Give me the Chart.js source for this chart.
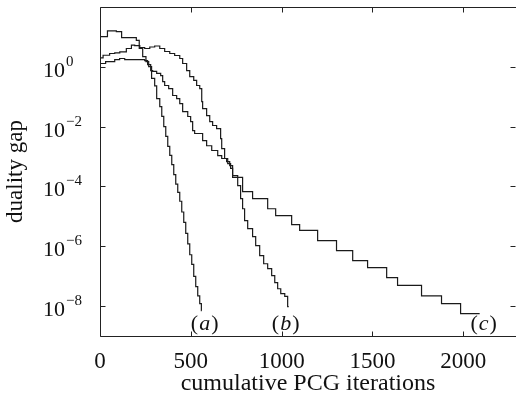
<!DOCTYPE html>
<html>
<head>
<meta charset="utf-8">
<script src="https://cdn.jsdelivr.net/npm/chart.js@4.4.0/dist/chart.umd.min.js"></script>
<style>
    html, body { margin: 0; padding: 0; background: #fff; }
</style>
</head>
<body>
<canvas id="gapchart" width="516" height="396"></canvas>
<script>
// curve (a)
const itersA = [0, 41, 90, 119, 200, 216, 235, 253, 268, 284, 301, 312, 329, 340, 351, 362, 373, 384, 395, 406,
    417, 428, 439, 450, 461, 472, 483, 494, 505, 516, 527, 538, 549, 558, 560];
const gapA = [0.138, 10.2, 15.8, 15.1, 9.5, 7.6, 4.1, 2.2, 1.5, 1.02, 0.41, 0.23, 0.087, 0.047, 0.022, 0.01,
    4.7e-3, 2.2e-3, 1.1e-3, 5.4e-4, 2.5e-4, 1.2e-4, 6.3e-5, 3.2e-5, 1.4e-5, 6.3e-6, 2.7e-6, 1.2e-6, 5.2e-7,
    2.5e-7, 9.8e-8, 4.5e-8, 2.2e-8, 1.2e-8, 7.1e-9];

// curve (b)
const itersB = [0, 17, 53, 81, 109, 145, 173, 191, 219, 246, 274, 301, 329, 356, 384, 411, 439, 455, 477, 494,
    516, 532, 549, 560, 565, 587, 604, 620, 642, 664, 670, 686, 703, 719, 730, 758, 774, 785, 796, 813,
    840, 857, 879, 901, 923, 945, 962, 978, 995, 1017, 1033, 1039];
const gapB = [0.60, 2.0, 2.44, 2.79, 2.94, 3.18, 4.09, 5.28, 5.15, 4.42, 4.09, 4.59, 4.96, 4.09, 3.25, 2.79,
    2.39, 1.90, 1.29, 0.75, 0.47, 0.35, 0.237, 0.188, 0.069, 0.040, 0.0235, 0.0148, 0.0109, 8.6e-3,
    4.0e-3, 1.85e-3, 8.6e-4, 5.8e-4, 4.0e-4, 2.3e-4, 1.07e-4, 3.9e-5, 1.8e-5, 7.2e-6, 3.9e-6, 2.1e-6,
    1.05e-6, 4.9e-7, 2.6e-7, 1.8e-7, 1.05e-7, 6.1e-8, 3.8e-8, 2.6e-8, 2.1e-8, 9.6e-9];

// curve (c)
const itersC = [0, 31, 81, 108, 136, 246, 262, 279, 290, 312, 334, 345, 356, 378, 400, 422, 439, 455, 483, 499,
    510, 521, 565, 587, 615, 648, 670, 697, 714, 730, 785, 840, 923, 967, 1055, 1099, 1198, 1302, 1391, 1473,
    1578, 1638, 1770, 1880, 1985, 2090];
const gapC = [1.02, 1.29, 1.50, 1.75, 1.90, 1.75, 1.62, 1.19, 0.75, 0.70, 0.60, 0.51, 0.32, 0.237, 0.188,
    0.110, 0.087, 0.059, 0.032, 0.0218, 0.0148, 7.4e-3, 5.9e-3, 3.4e-3, 2.3e-3, 1.59e-3, 1.08e-3, 8.6e-4,
    6.8e-4, 5.0e-4, 2.0e-4, 6.7e-5, 3.9e-5, 1.8e-5, 1.06e-5, 5.3e-6, 3.4e-6, 1.55e-6, 7.2e-7, 3.3e-7,
    1.94e-7, 9.0e-8, 4.9e-8, 2.2e-8, 1.21e-8, 5.6e-9];

const xTicks = [0, 500, 1000, 1500, 2000];
const yTicks = [1, 1e-2, 1e-4, 1e-6, 1e-8];

// curve tags, placed in data coordinates
const tagLetters = ['a', 'b', 'c'];
const tagIters = [576, 1022, 2112];
const tagGap = [1.6e-9, 1.6e-9, 1.6e-9];

const serif = "'Liberation Serif', 'Times New Roman', serif";
const ink = '#1a1a1a';

function pts(xs, ys) {
    return xs.map(function (x, i) { return { x: x, y: ys[i] }; });
}

function lineSet(xs, ys) {
    return {
        data: pts(xs, ys),
        borderColor: ink,
        borderWidth: 1.2,
        pointRadius: 0,
        stepped: 'after',
        fill: false
    };
}

// matlab style box, inward ticks, 10^n labels and the (a)(b)(c) tags
const matlabBox = {
    id: 'matlabBox',
    afterDraw(chart) {
        const ctx = chart.ctx;
        const area = chart.chartArea;
        const xs = chart.scales.x;
        const ys = chart.scales.y;
        // right edge of the box sits just outside the picture
        const L = area.left + 0.5, R = area.right + 0.5, T = area.top + 0.5, B = area.bottom + 0.5;
        ctx.save();
        ctx.strokeStyle = '#222';
        ctx.lineWidth = 1;
        ctx.beginPath();
        ctx.rect(L, T, R - L, B - T);
        xTicks.forEach(function (v) {
            const px = Math.round(xs.getPixelForValue(v)) + 0.5;
            ctx.moveTo(px, B); ctx.lineTo(px, B - 5);
            ctx.moveTo(px, T); ctx.lineTo(px, T + 5);
        });
        yTicks.forEach(function (v) {
            const py = Math.round(ys.getPixelForValue(v)) + 0.5;
            ctx.moveTo(L, py); ctx.lineTo(L + 5, py);
            ctx.moveTo(R - 1, py); ctx.lineTo(R - 6, py);
        });
        ctx.stroke();

        // y tick labels as 10 with a raised exponent
        ctx.fillStyle = '#111';
        ctx.textAlign = 'left';
        ctx.textBaseline = 'alphabetic';
        yTicks.forEach(function (v) {
            const py = ys.getPixelForValue(v);
            const e = Math.round(Math.log10(v));
            ctx.font = '22px ' + serif;
            ctx.fillText('10', 43, py + 10);
            const w = ctx.measureText('10').width;
            ctx.font = '15px ' + serif;
            ctx.fillText(e === 0 ? '0' : '\u2212' + Math.abs(e), 43 + w + 1, py - 1);
        });

        // curve tags
        tagLetters.forEach(function (t, i) {
            const cx = xs.getPixelForValue(tagIters[i]);
            const cy = ys.getPixelForValue(tagGap[i]);
            ctx.font = '22px ' + serif;
            const wp = ctx.measureText('(').width;
            const wq = ctx.measureText(')').width;
            ctx.font = 'italic 22px ' + serif;
            const wl = ctx.measureText(t).width;
            let x0 = cx - (wp + wl + wq + 2) / 2;
            ctx.font = '22px ' + serif;
            ctx.fillText('(', x0, cy);
            ctx.font = 'italic 22px ' + serif;
            ctx.fillText(t, x0 + wp + 1, cy);
            ctx.font = '22px ' + serif;
            ctx.fillText(')', x0 + wp + wl + 2, cy);
        });
        ctx.restore();
    }
};

var gapChart = new Chart(document.getElementById('gapchart'), {
    type: 'line',
    data: {
        datasets: [lineSet(itersA, gapA), lineSet(itersB, gapB), lineSet(itersC, gapC)]
    },
    options: {
        responsive: false,
        animation: false,
        layout: { padding: { top: 7, right: 0, left: 0, bottom: 0 } },
        plugins: {
            legend: { display: false },
            tooltip: { enabled: false }
        },
        scales: {
            x: {
                type: 'linear',
                min: 0,
                max: 2290,
                afterBuildTicks: function (s) { s.ticks = xTicks.map(function (v) { return { value: v }; }); },
                afterFit: function (s) { s.height = 60; },
                grid: { display: false, drawTicks: false },
                border: { display: false },
                ticks: {
                    color: '#111',
                    padding: 12,
                    maxRotation: 0,
                    autoSkip: false,
                    font: { family: serif, size: 23 },
                    callback: function (v) { return String(v); }
                },
                title: {
                    display: true,
                    text: 'cumulative PCG iterations',
                    color: '#111',
                    font: { family: serif, size: 24, lineHeight: 1 },
                    padding: { top: 0, bottom: 0 }
                }
            },
            y: {
                type: 'logarithmic',
                min: 1e-9,
                max: 1e2,
                afterBuildTicks: function (s) { s.ticks = yTicks.map(function (v) { return { value: v }; }); },
                afterFit: function (s) { s.width = 100; },
                grid: { display: false, drawTicks: false },
                border: { display: false },
                ticks: { display: false },
                title: {
                    display: true,
                    text: 'duality gap',
                    color: '#111',
                    font: { family: serif, size: 23, lineHeight: 1 },
                    padding: { top: 4, bottom: 0 }
                }
            }
        }
    },
    plugins: [matlabBox]
});
</script>
</body>
</html>
